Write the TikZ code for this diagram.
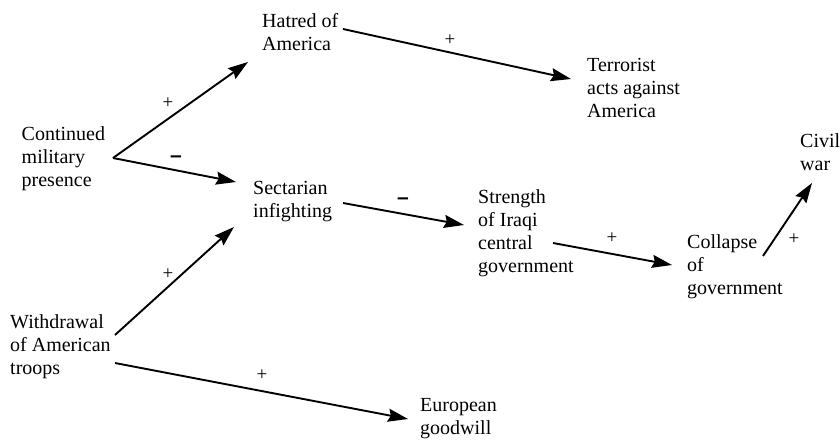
\documentclass[tikz,border=0pt]{standalone}
\usepackage{fontspec}
\setmainfont{Liberation Serif}
\newfontfamily\signfont{Liberation Sans}
\usetikzlibrary{arrows.meta}
\begin{document}
\begin{tikzpicture}[x=1pt,y=-1pt,
  factor/.style={anchor=north west,inner sep=0pt,align=left,
    font=\fontsize{20}{23}\selectfont},
  link/.style={line width=1.9pt,-{Stealth[length=20pt,width=13pt,inset=2.5pt]}},
  plus/.style={inner sep=0pt,font=\fontsize{19}{20}\selectfont},
  minus/.style={inner sep=0pt,font=\signfont\bfseries\fontsize{21}{21}\selectfont}]
\useasboundingbox (0,0) rectangle (840,439);

% causal factors (top edge = first baseline minus ascender height)
\node[factor] (hatred)   at (262,13.3)  {Hatred of\\America};
\node[factor] (terror)   at (587,58.3)  {Terrorist\\acts against\\America};
\node[factor] (cont)     at (21.5,126.8) {Continued\\military\\presence};
\node[factor] (sect)     at (253,181.3) {Sectarian\\infighting};
\node[factor] (strength) at (478,189.3) {Strength\\of Iraqi\\central\\government};
\node[factor] (civil)    at (800,133.3) {Civil\\war};
\node[factor] (collapse) at (687,234.3) {Collapse\\of\\government};
\node[factor] (withdraw) at (10,314.3)  {Withdrawal\\of American\\troops};
\node[factor] (europe)   at (420,398.3) {European\\goodwill};

% arrow end points beside each factor
\coordinate (cont-out)      at (113,158);
\coordinate (hatred-in)     at (248,62);
\coordinate (hatred-out)    at (343,29);
\coordinate (terror-in)     at (571,79);
\coordinate (sect-in)       at (236,182);
\coordinate (sect-in2)      at (234,227);
\coordinate (sect-out)      at (343,203);
\coordinate (strength-in)   at (464,225);
\coordinate (strength-out)  at (553,243);
\coordinate (collapse-in)   at (672,265);
\coordinate (collapse-out)  at (763,256);
\coordinate (civil-in)      at (812,183);
\coordinate (withdraw-out)  at (115,335);
\coordinate (withdraw-out2) at (115,363);
\coordinate (europe-in)     at (408,419);

% causal links
\draw[link] (cont-out) -- (hatred-in);
\draw[link] (cont-out) -- (sect-in);
\draw[link] (hatred-out) -- (terror-in);
\draw[link] (sect-out) -- (strength-in);
\draw[link] (strength-out) -- (collapse-in);
\draw[link] (collapse-out) -- (civil-in);
\draw[link] (withdraw-out) -- (sect-in2);
\draw[link] (withdraw-out2) -- (europe-in);

% link polarities
\node[plus]  (s1) at (168,103) {+};
\node[minus] (s2) at (176,159) {–};
\node[plus]  (s3) at (450,40)  {+};
\node[minus] (s4) at (403,201) {–};
\node[plus]  (s5) at (612,238) {+};
\node[plus]  (s6) at (794,239) {+};
\node[plus]  (s7) at (168,274) {+};
\node[plus]  (s8) at (262,375) {+};
\end{tikzpicture}
\end{document}
